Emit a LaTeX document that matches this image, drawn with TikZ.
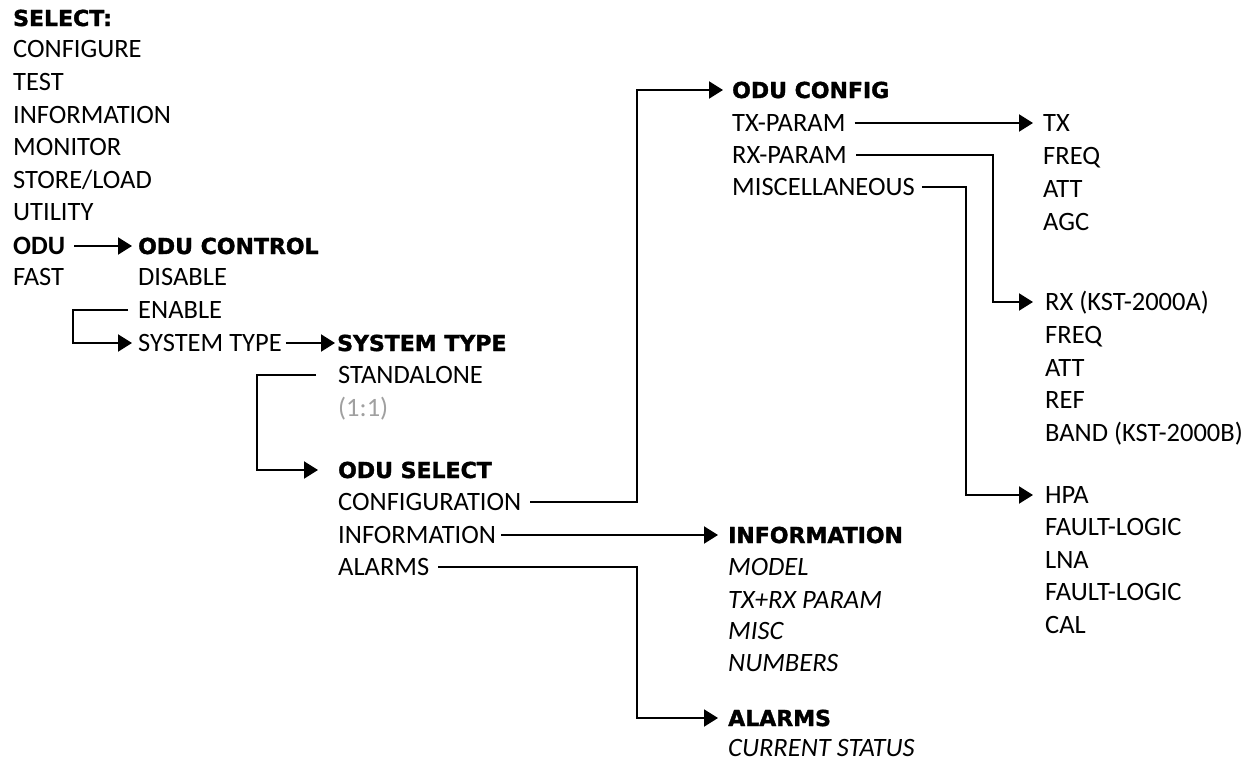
\documentclass[tikz,border=0pt]{standalone}
\usepackage{fontspec}
\setmainfont{Carlito}
\newfontfamily\hdrfont[BoldFeatures={FakeBold=1.6}]{DejaVu Sans}
\usetikzlibrary{arrows.meta}
\definecolor{lightgray1}{HTML}{A0A0A0}
\begin{document}
\begin{tikzpicture}[x=1pt,y=-1pt,
  reg/.style={anchor=west, inner sep=0pt, text height=17.1pt, text depth=0pt, font=\fontsize{26.5}{30}\selectfont},
  regb/.style={reg, font=\fontsize{26.5}{30}\selectfont\bfseries},
  ita/.style={reg, font=\fontsize{26.5}{30}\selectfont\itshape},
  greytxt/.style={reg, text=lightgray1},
  hdr/.style={anchor=west, inner sep=0pt, text height=16pt, text depth=0pt, font=\hdrfont\bfseries\fontsize{22}{26}\selectfont},
  link/.style={line width=2pt, -{Triangle[length=14pt,width=17pt]}},
]
\path[use as bounding box] (0,0) rectangle (1257,763);

% column 1
\node[hdr] (sel) at (13,18) {SELECT:};
\node[reg] (configure) at (13,49) {CONFIGURE};
\node[reg] (test) at (13,82) {TEST};
\node[reg] (information0) at (13,115) {INFORMATION};
\node[reg] (monitor) at (13,147) {MONITOR};
\node[reg] (storeload) at (13,180) {STORE/LOAD};
\node[reg] (utility) at (13,212) {UTILITY};
\node[regb] (odu) at (13,246) {ODU};
\node[reg] (fast) at (13,277) {FAST};

% column 2
\node[hdr] (oductrl) at (138,246) {ODU CONTROL};
\node[reg] (disable) at (138,277) {DISABLE};
\node[reg] (enable) at (138,310) {ENABLE};
\node[reg] (systype) at (138,343) {SYSTEM TYPE};

% column 3
\node[hdr] (systypehdr) at (337,343) {SYSTEM TYPE};
\node[reg] (standalone) at (338,375) {STANDALONE};
\node[greytxt] (onetoone) at (338,408) {(1:1)};

% column 4
\node[hdr] (oduselect) at (338,470) {ODU SELECT};
\node[reg] (configuration) at (338,502) {CONFIGURATION};
\node[reg] (information) at (338,535) {INFORMATION};
\node[reg] (alarms) at (338,567) {ALARMS};

% column 5
\node[hdr] (infohdr) at (728,535) {INFORMATION};
\node[ita] (model) at (728,567) {MODEL};
\node[ita] (txrx) at (728,600) {TX+RX PARAM};
\node[ita] (misc) at (728,631) {MISC};
\node[ita] (numbers) at (728,663) {NUMBERS};
\node[hdr] (alarmshdr) at (728,718) {ALARMS};
\node[ita] (current) at (728,748) {CURRENT STATUS};

% column 6
\node[hdr] (oduconfig) at (732,90) {ODU CONFIG};
\node[reg] (txparam) at (732,123) {TX-PARAM};
\node[reg] (rxparam) at (732,155) {RX-PARAM};
\node[reg] (miscellaneous) at (732,187) {MISCELLANEOUS};

% column 7
\node[reg] (tx) at (1043,123) {TX};
\node[reg] (freq) at (1043,156) {FREQ};
\node[reg] (att) at (1043,189) {ATT};
\node[reg] (agc) at (1043,222) {AGC};
\node[reg] (rx) at (1045,302) {RX (KST-2000A)};
\node[reg] (freqb) at (1045,335) {FREQ};
\node[reg] (attb) at (1045,368) {ATT};
\node[reg] (ref) at (1045,400) {REF};
\node[reg] (band) at (1045,433) {BAND (KST-2000B)};
\node[reg] (hpa) at (1045,495) {HPA};
\node[reg] (faulta) at (1045,527) {FAULT-LOGIC};
\node[reg] (lna) at (1045,560) {LNA};
\node[reg] (faultb) at (1045,592) {FAULT-LOGIC};
\node[reg] (cal) at (1045,625) {CAL};

% bend coordinates
\coordinate (xa) at (73,0);
\coordinate (xb) at (257,0);
\coordinate (xc) at (637,0);
\coordinate (xd) at (993,0);
\coordinate (xe) at (966,0);

% connectors
\draw[link] ([xshift=9pt]odu.east) -- ([xshift=-6pt]oductrl.west);
\draw[link] ([xshift=-10pt]enable.west) -- (enable.west -| xa) |- ([xshift=-6pt]systype.west);
\draw[link] ([xshift=4pt]systype.east) -- ([xshift=-2pt]systypehdr.west);
\draw[link] ([xshift=-22pt]standalone.west) -- (standalone.west -| xb) |- ([xshift=-20pt]oduselect.west);
\draw[link] ([xshift=9pt]configuration.east) -- (configuration.east -| xc) |- ([xshift=-9pt]oduconfig.west);
\draw[link] ([xshift=5pt]information.east) -- ([xshift=-10pt]infohdr.west);
\draw[link] ([xshift=9pt]alarms.east) -- (alarms.east -| xc) |- ([xshift=-10pt]alarmshdr.west);
\draw[link] ([xshift=9pt]txparam.east) -- ([xshift=-10pt]tx.west);
\draw[link] ([xshift=9pt]rxparam.east) -- (rxparam.east -| xd) |- ([xshift=-12pt]rx.west);
\draw[link] ([xshift=7pt]miscellaneous.east) -- (miscellaneous.east -| xe) |- ([xshift=-12pt]hpa.west);
\end{tikzpicture}
\end{document}
